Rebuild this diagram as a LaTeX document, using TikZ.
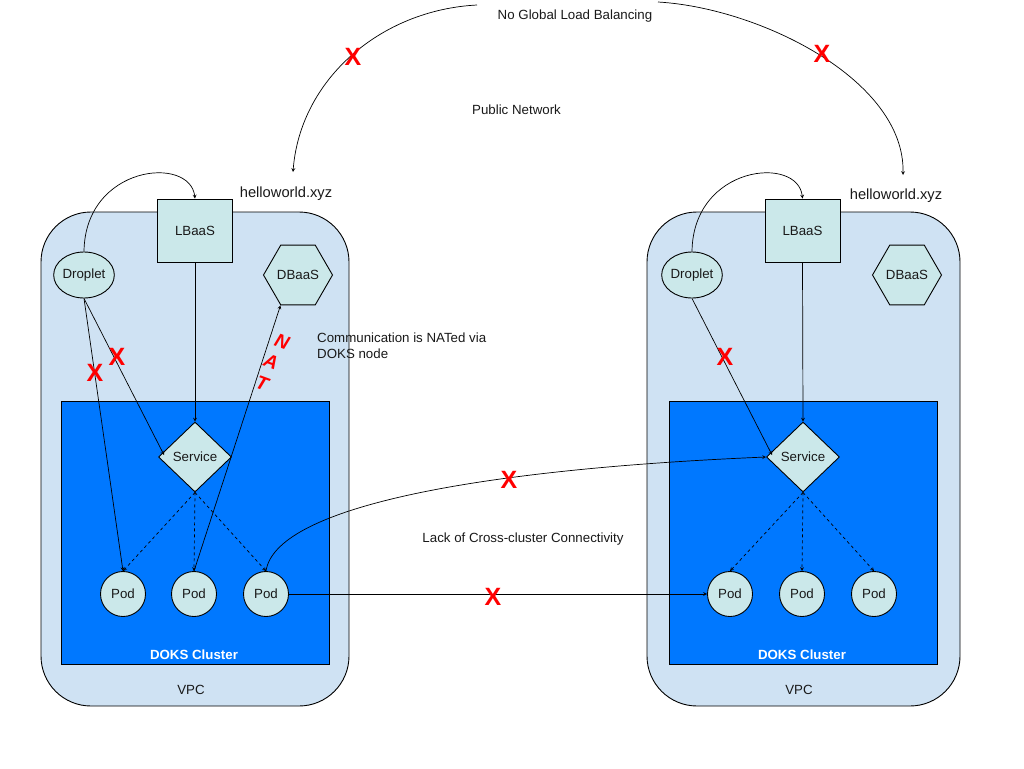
\documentclass[tikz,border=0pt]{standalone}
\usepackage{fontspec}
\setmainfont{Liberation Sans}
\usetikzlibrary{shapes.geometric}
\definecolor{vpcblue}{HTML}{CFE2F3}
\definecolor{dokblue}{HTML}{0078FF}
\definecolor{svcfill}{HTML}{CBE8EA}
\tikzset{
	txt/.style={font=\fontsize{13.3}{16}\selectfont,text=black!90,inner sep=0pt},
	hellotxt/.style={txt,font=\fontsize{14.7}{16}\selectfont},
	vpcbox/.style={draw=black,line width=.9pt,fill=vpcblue,rounded corners=50pt,minimum width=308pt,minimum height=494pt,inner sep=0pt},
	dokbox/.style={draw=black,line width=.9pt,fill=dokblue,minimum width=268pt,minimum height=263pt,inner sep=0pt},
	lbaas/.style={txt,draw=black,line width=.9pt,fill=svcfill,minimum width=75pt,minimum height=63pt},
	droplet/.style={txt,draw=black,line width=.9pt,fill=svcfill,ellipse,minimum width=59pt,minimum height=46pt},
	dbaas/.style={txt,draw=black,line width=.9pt,fill=svcfill,regular polygon,regular polygon sides=6,minimum size=69pt},
	service/.style={txt,draw=black,line width=.9pt,fill=svcfill,diamond,aspect=1.05,minimum width=73pt,minimum height=70pt},
	pod/.style={txt,draw=black,line width=.9pt,fill=svcfill,circle,minimum size=45pt},
	crossx/.style={font=\fontsize{25}{25}\selectfont\bfseries,text=red,inner sep=0pt},
	natletter/.style={font=\fontsize{19}{19}\selectfont\bfseries\itshape,text=red,inner sep=0pt,rotate=-20},
	clustertxt/.style={font=\fontsize{13.3}{16}\selectfont\bfseries,text=white,inner sep=0pt},
	link/.style={draw=black,line width=.7pt,-stealth},
	podlink/.style={link,dashed}
}
\begin{document}
\begin{tikzpicture}[x=1pt,y=-1pt]
	\useasboundingbox (0,0) rectangle (1024,768);

	\node[vpcbox] (vpcA) at (195,459) {};
	\node[vpcbox,minimum width=313pt] (vpcB) at (803.5,459) {};
	\node[dokbox] (dokA) at (195,532.5) {};
	\node[dokbox] (dokB) at (803,532.5) {};

	\node[lbaas] (lbaasA) at (195,230.5) {LBaaS};
	\node[lbaas] (lbaasB) at (802.5,230.5) {LBaaS};
	\node[droplet] (dropletA) at (84,275) {Droplet};
	\node[droplet] (dropletB) at (692,275) {Droplet};
	\node[dbaas] (dbaasA) at (298,275) {DBaaS};
	\node[dbaas] (dbaasB) at (907,275) {DBaaS};
	\node[service] (serviceA) at (195,457) {Service};
	\node[service] (serviceB) at (803,457) {Service};

	\node[pod] (podA) at (123,594) {Pod};
	\node[pod] (podB) at (194,594) {Pod};
	\node[pod] (podC) at (266,594) {Pod};
	\node[pod] (podD) at (730,594) {Pod};
	\node[pod] (podE) at (802,594) {Pod};
	\node[pod] (podF) at (874,594) {Pod};

	\node[txt] (globalTxt) at (575,16) {No Global Load Balancing};
	\node[txt] (publicTxt) at (516.5,110) {Public Network};
	\node[hellotxt] (helloA) at (286,193.5) {helloworld.xyz};
	\node[hellotxt] (helloB) at (896,196) {helloworld.xyz};
	\node[txt,anchor=north west,align=left] (natTxt) at (317,333) {Communication is NATed via\\DOKS node};
	\node[txt] (lackTxt) at (523,539.5) {Lack of Cross-cluster Connectivity};
	\node[clustertxt] (dokTxtA) at (194,655) {DOKS Cluster};
	\node[clustertxt] (dokTxtB) at (802,655) {DOKS Cluster};
	\node[txt] (vpcTxtA) at (191,690) {VPC};
	\node[txt] (vpcTxtB) at (799,690) {VPC};

	\coordinate (globalL) at (477,5);
	\coordinate (globalR) at (658,2);
	\coordinate (siteA) at (293,172);
	\coordinate (siteB) at (903,175);

	\draw[link] (globalL) .. controls (380,10) and (300,80) .. (siteA);
	\draw[link] (globalR) .. controls (760,8) and (905,80) .. (siteB);

	\draw[link] (dropletA.north) .. controls (85,165) and (190,155) .. (lbaasA.north);
	\draw[link] (dropletB.north) .. controls (693,165) and (798,155) .. (lbaasB.north);
	\draw[link] (dropletA.south) -- (podA.north);
	\draw[link] (dropletA.south) -- ([xshift=6pt,yshift=2pt]serviceA.west);
	\draw[link] (dropletB.south) -- ([xshift=6pt,yshift=2pt]serviceB.west);
	\draw[link] (lbaasA.south) -- (serviceA.north);
	\draw[link] (lbaasB.south) -- (serviceB.north);
	\draw[link] (podB.north) -- (dbaasA.corner 4);

	\draw[podlink] (serviceA.south) -- (podA.north);
	\draw[podlink] (serviceA.south) -- (podB.north);
	\draw[podlink] (serviceA.south) -- (podC.north);
	\draw[podlink] (serviceB.south) -- (podD.north);
	\draw[podlink] (serviceB.south) -- (podE.north);
	\draw[podlink] (serviceB.south) -- (podF.north);

	\draw[link] (podC.north) .. controls (275,510) and (460,470) .. (serviceB.west);
	\draw[link] (podC.east) -- (podD.west);

	\node[crossx] (xGlobalL) at (353,57) {X};
	\node[crossx] (xGlobalR) at (822,54) {X};
	\node[crossx] (xServiceA) at (117,357) {X};
	\node[crossx] (xPodA) at (95,373) {X};
	\node[crossx] (xServiceB) at (725,357) {X};
	\node[crossx] (xCurve) at (509,480) {X};
	\node[crossx] (xPods) at (493,597) {X};

	\node[natletter] (natN) at (282,342) {N};
	\node[natletter] (natA) at (271,362) {A};
	\node[natletter] (natT) at (262,383) {T};
\end{tikzpicture}
\end{document}
